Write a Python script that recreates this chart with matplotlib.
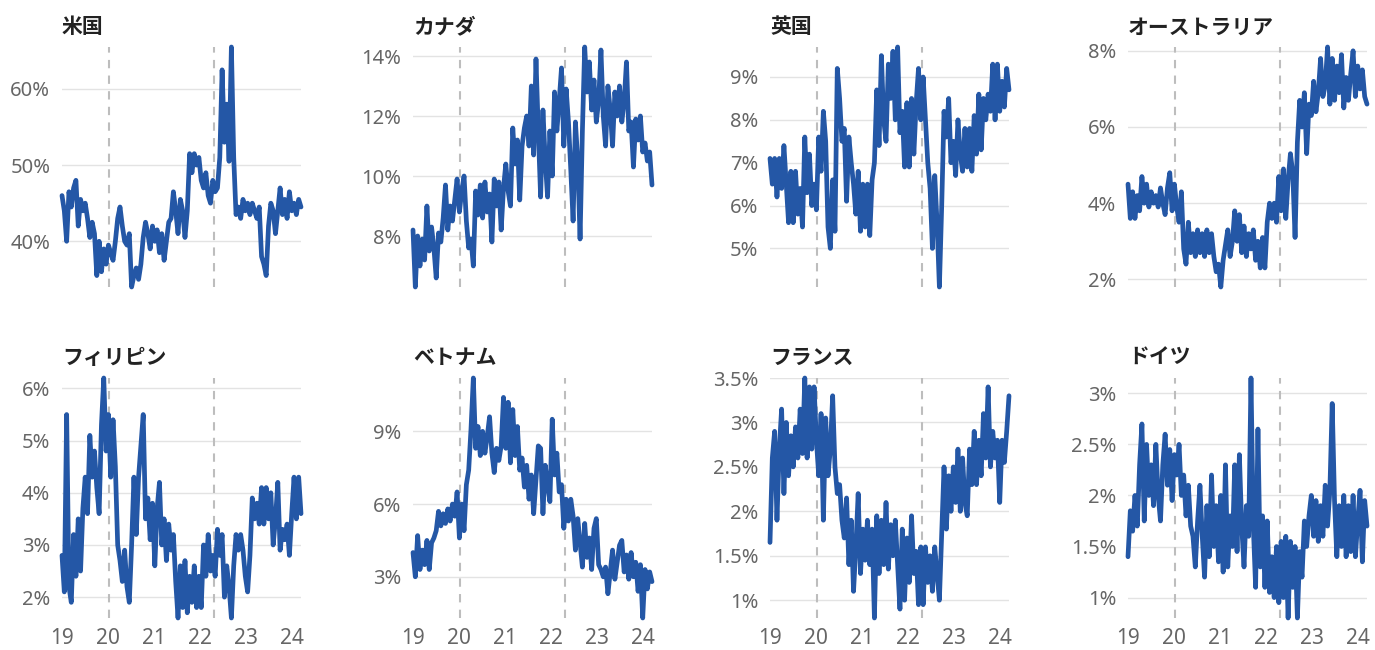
import numpy as np
import matplotlib
matplotlib.use('Agg')
import matplotlib.pyplot as plt

plt.rcParams['font.family'] = ['Noto Sans CJK JP', 'DejaVu Sans']

START, END = 2019.0, 2024.2
EVENTS = [2020.02, 2022.3]
YEARS = [2019, 2020, 2021, 2022, 2023, 2024]
YEAR_LABELS = ['19', '20', '21', '22', '23', '24']

TITLES = ['米国', 'カナダ', '英国', 'オーストラリア',
          'フィリピン', 'ベトナム', 'フランス', 'ドイツ']

us = [46, 44, 40, 46.5, 44.5, 47, 48, 42, 45.5, 44, 45, 43, 40.5, 42.5, 41,
      35.5, 40, 36, 39, 37, 39.5, 38.5, 37.5, 40, 43, 44.5, 42, 40, 39.5, 41,
      34, 35.5, 36.5, 35, 37, 40.5, 42.5, 41, 39, 42, 40, 41.5, 38.5, 41, 37.5,
      40, 42.5, 43, 46.5, 44, 41, 45.5, 44, 40.5, 44, 51.5, 49, 51.5, 50, 51,
      48, 47, 49, 46, 45, 48, 46.5, 47, 51, 62.5, 53, 58, 50.5, 65.5, 51, 43.5,
      44.5, 43, 45.5, 44, 45, 43.5, 45, 44, 43, 44.5, 38, 37, 35.5, 42, 45, 44,
      41, 44, 47, 43.5, 45.5, 43, 46.5, 44, 45, 43.5, 45.5, 44.5]

canada = [8.2, 6.3, 8.0, 7.0, 7.9, 7.2, 9.0, 7.5, 8.3, 7.6, 6.6, 8.1, 7.8, 8.6,
          9.7, 8.2, 9.0, 8.5, 9.2, 9.9, 8.8, 9.5, 10.0, 8.5, 7.6, 7.9, 7.0, 9.5,
          8.7, 9.7, 8.6, 9.8, 8.8, 9.4, 7.8, 9.9, 9.0, 9.8, 8.2, 9.6, 10.4, 9.5,
          9.0, 11.6, 10.4, 11.2, 9.2, 11.0, 11.6, 12.0, 11.0, 13.0, 10.7, 13.9,
          11.5, 9.3, 12.2, 10.5, 9.3, 11.5, 10.0, 12.8, 11.5, 12.5, 13.6, 11.0,
          12.9, 11.8, 10.2, 8.5, 11.8, 10.5, 7.9, 11.5, 14.3, 12.8, 13.8, 12.2,
          13.2, 11.8, 12.5, 14.2, 12.0, 11.0, 13.0, 12.2, 11.0, 12.8, 12.0, 13.0,
          11.8, 12.5, 13.8, 11.5, 11.8, 10.3, 11.9, 11.2, 12.0, 10.8, 11.1, 10.5,
          10.8, 9.7]

uk = [7.1, 6.5, 7.1, 6.2, 7.1, 6.4, 7.4, 6.5, 5.6, 6.8, 5.6, 6.8, 5.8, 6.4,
      5.5, 7.6, 6.3, 7.2, 6.0, 6.5, 5.9, 7.6, 6.8, 8.2, 7.5, 5.5, 5.0, 6.6,
      5.4, 9.2, 8.5, 7.5, 7.8, 6.1, 7.6, 7.0, 6.5, 5.8, 6.8, 5.4, 6.5, 5.5,
      6.5, 5.3, 6.6, 7.0, 8.7, 7.4, 9.5, 8.0, 7.5, 9.3, 8.5, 9.6, 8.0, 9.7,
      7.7, 8.2, 6.9, 8.4, 6.9, 8.5, 7.2, 8.4, 9.2, 8.0, 9.0, 8.0, 7.0, 6.4,
      5.0, 6.7, 5.6, 4.1, 6.0, 8.2, 7.6, 8.5, 7.0, 7.5, 6.7, 8.0, 7.2, 6.8,
      7.8, 6.9, 7.8, 6.8, 8.1, 7.2, 8.6, 7.3, 8.5, 8.0, 8.6, 8.2, 9.3, 8.0,
      9.3, 8.2, 8.9, 8.3, 9.2, 8.7]

australia = [4.5, 3.6, 4.3, 3.6, 4.2, 3.8, 4.7, 4.0, 4.5, 3.9, 4.3, 4.0, 4.2,
             3.9, 4.4, 4.0, 3.7, 4.4, 4.8, 3.8, 4.5, 3.9, 3.5, 4.3, 2.8, 2.4,
             3.5, 2.7, 3.2, 2.6, 3.3, 2.7, 3.2, 2.6, 3.3, 2.7, 3.2, 2.6, 2.2,
             2.4, 1.8, 2.5, 2.9, 3.3, 2.6, 3.0, 3.8, 3.0, 3.7, 2.7, 3.4, 2.6,
             3.2, 2.8, 3.3, 2.5, 3.0, 2.3, 3.1, 2.3, 3.5, 4.0, 3.6, 4.0, 3.5,
             4.7, 3.8, 4.9, 3.6, 4.6, 5.3, 4.8, 3.1, 5.6, 6.7, 6.0, 6.9, 5.3,
             6.6, 6.3, 7.2, 6.4, 6.9, 7.8, 6.8, 7.1, 8.1, 6.6, 7.8, 6.7, 7.6,
             6.9, 7.9, 6.5, 7.3, 6.7, 7.4, 8.0, 6.8, 7.6, 7.0, 7.5, 6.8, 6.6]

philippines = [2.8, 2.1, 5.5, 2.2, 1.9, 3.2, 2.4, 3.5, 2.5, 3.7, 4.3, 3.6, 5.1,
               4.3, 4.8, 4.1, 3.6, 5.3, 6.2, 4.8, 5.5, 4.3, 5.4, 4.5, 3.0, 2.7,
               2.3, 2.9, 2.2, 1.9, 3.0, 4.3, 3.2, 4.3, 4.9, 5.5, 3.5, 3.9, 3.1,
               3.8, 2.6, 3.7, 4.2, 3.0, 3.5, 2.7, 3.4, 2.9, 3.2, 2.3, 1.6, 2.6,
               1.8, 2.7, 1.7, 2.4, 1.9, 2.6, 1.8, 2.4, 1.8, 3.0, 2.4, 3.2, 2.5,
               2.8, 2.4, 3.3, 2.8, 3.2, 2.0, 2.6, 2.2, 1.6, 2.6, 3.2, 2.9, 3.2,
               2.9, 2.4, 2.1, 2.8, 3.9, 3.5, 3.8, 3.4, 4.1, 3.4, 4.1, 3.5, 4.0,
               3.0, 3.5, 4.2, 2.9, 3.3, 3.1, 3.4, 2.8, 3.6, 4.3, 3.5, 4.3, 3.6]

vietnam = [4.0, 3.0, 4.7, 3.3, 4.1, 3.5, 4.5, 3.3, 4.4, 4.6, 4.9, 5.7, 5.1, 5.6,
           5.2, 5.8, 5.3, 6.0, 5.5, 6.5, 4.6, 6.0, 4.9, 6.8, 7.4, 9.1, 11.2, 8.3,
           9.2, 8.0, 9.0, 8.1, 8.8, 9.6, 8.1, 7.3, 8.3, 7.8, 8.4, 10.4, 8.3,
           10.2, 7.7, 9.9, 8.0, 9.2, 7.4, 7.9, 6.7, 7.6, 6.2, 7.2, 5.6, 7.0,
           8.4, 8.3, 5.6, 7.6, 6.8, 6.1, 9.5, 7.2, 8.1, 6.5, 6.8, 5.0, 6.2, 5.3,
           6.2, 5.5, 4.1, 5.4, 4.4, 3.4, 5.2, 3.8, 4.6, 3.3, 5.0, 5.4, 3.5, 3.3,
           3.0, 3.4, 2.3, 3.2, 4.1, 2.9, 3.6, 4.3, 4.5, 3.2, 3.9, 2.9, 4.0, 3.0,
           3.6, 2.4, 3.5, 1.3, 3.3, 2.5, 3.2, 2.8]

france = [1.65, 2.6, 2.9, 1.9, 2.7, 3.15, 2.2, 3.0, 2.4, 2.85, 2.5, 2.95, 2.6,
          3.15, 2.65, 3.5, 2.6, 3.4, 2.7, 3.4, 2.8, 2.4, 3.1, 1.9, 3.05, 2.4,
          2.7, 3.3, 2.5, 2.2, 2.3, 1.9, 1.7, 2.15, 1.4, 1.9, 1.1, 1.6, 2.2, 1.3,
          1.8, 1.45, 1.9, 1.4, 1.8, 0.8, 1.95, 1.3, 1.9, 1.4, 2.1, 1.35, 1.85,
          1.5, 1.9, 1.4, 0.9, 1.8, 1.0, 1.7, 1.2, 1.95, 1.3, 1.55, 0.95, 1.6,
          0.95, 1.6, 1.2, 1.5, 1.1, 1.6, 1.3, 1.0, 1.75, 2.5, 1.8, 2.4, 2.0, 2.5,
          2.1, 2.7, 2.0, 2.6, 2.1, 1.95, 2.7, 2.3, 2.9, 2.3, 2.8, 2.4, 3.1, 2.6,
          3.4, 2.5, 2.9, 2.6, 2.8, 2.1, 2.8, 2.55, 2.9, 3.3]

germany = [1.4, 1.85, 1.65, 2.0, 1.7, 2.3, 2.7, 1.75, 2.5, 2.0, 2.3, 1.9, 2.5,
           2.0, 1.75, 2.3, 2.6, 2.1, 2.45, 1.95, 2.4, 2.2, 2.5, 2.0, 2.2, 1.8,
           2.1, 1.7, 1.6, 1.3, 1.75, 2.1, 1.6, 1.2, 1.9, 1.4, 2.2, 1.5, 1.9,
           1.35, 2.0, 1.25, 2.3, 1.3, 1.8, 1.5, 2.3, 1.45, 2.4, 1.7, 1.3, 1.9,
           1.6, 3.15, 1.7, 1.1, 2.65, 1.3, 1.8, 1.1, 1.75, 1.05, 1.4, 1.0, 1.5,
           0.95, 1.55, 1.0, 1.6, 0.8, 1.55, 1.1, 1.5, 0.8, 1.45, 1.2, 1.75, 1.5,
           1.8, 2.0, 1.6, 1.95, 1.55, 1.9, 1.6, 2.1, 1.7, 2.05, 2.9, 1.95, 1.4,
           1.9, 1.5, 2.0, 1.4, 1.9, 1.45, 2.0, 1.4, 1.75, 2.05, 1.35, 1.95, 1.7]

SERIES = [us, canada, uk, australia, philippines, vietnam, france, germany]
YTICKS = [[40, 50, 60], [8, 10, 12, 14], [5, 6, 7, 8, 9], [2, 4, 6, 8],
          [2, 3, 4, 5, 6], [3, 6, 9], [1, 1.5, 2, 2.5, 3, 3.5],
          [1, 1.5, 2, 2.5, 3]]

LINE_COLOR = '#2457a6'
W, H = 1375, 650
LEFTS = [62, 413, 770, 1128]
TOPS = [47, 378]
AX_W, AX_H = 239, 240

fig = plt.figure(figsize=(W / 100, H / 100), dpi=100)

for i, (vals, title, yticks) in enumerate(zip(SERIES, TITLES, YTICKS)):
    row, col = divmod(i, 4)
    left = LEFTS[col] / W
    bottom = 1 - (TOPS[row] + AX_H) / H
    ax = fig.add_axes([left, bottom, AX_W / W, AX_H / H])

    x = np.linspace(START, END, len(vals))
    ax.plot(x, vals, color=LINE_COLOR, lw=3.4, solid_joinstyle='round',
            solid_capstyle='round', clip_on=False, zorder=3)
    for ev in EVENTS:
        ax.axvline(ev, color='#bdbdbd', lw=1.5, ls=(0, (4, 3.5)), zorder=1)

    ax.set_xlim(START, END)
    ax.set_ylim(min(vals), max(vals))
    ax.set_yticks(yticks)
    ax.set_yticklabels([f'{t:g}%' for t in yticks], family='Noto Sans')
    ax.grid(axis='y', color='#e3e3e3', lw=1.0, zorder=0)
    ax.set_axisbelow(True)
    for s in ax.spines.values():
        s.set_visible(False)
    ax.tick_params(axis='y', length=0, pad=8.5, labelsize=14.5,
                   labelcolor='#666666')
    ax.set_xticks(YEARS)
    if row == 1:
        ax.set_xticklabels(YEAR_LABELS, family='Noto Sans')
        ax.tick_params(axis='x', length=0, pad=7, labelsize=15,
                       labelcolor='#666666')
    else:
        ax.tick_params(axis='x', length=0, labelbottom=False)

    ax.annotate(title, xy=(0, 1), xycoords='axes fraction', xytext=(0, 7),
                textcoords='offset points', ha='left', va='bottom',
                fontsize=15, fontweight='bold', color='#222222')

fig.savefig('out.png', dpi=100)
